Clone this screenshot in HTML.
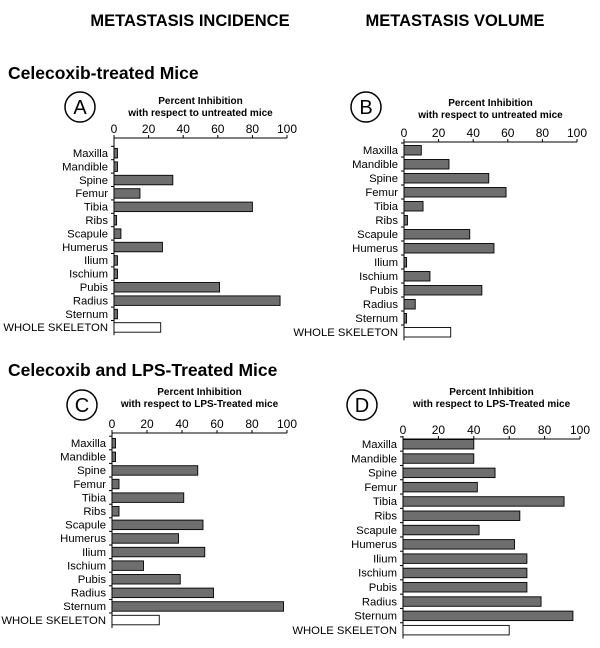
<!DOCTYPE html>
<html><head><meta charset="utf-8"><style>
body{margin:0;background:#fff;}
svg{display:block;font-family:"Liberation Sans",Arial,sans-serif;}
</style></head><body>
<svg id="fig" width="600" height="648" viewBox="0 0 600 648">
<text x="190" y="26" text-anchor="middle" font-size="16.5" font-weight="bold">METASTASIS INCIDENCE</text>
<text x="455" y="26" text-anchor="middle" font-size="16.5" font-weight="bold">METASTASIS VOLUME</text>
<text x="8" y="79" font-size="17.5" font-weight="bold">Celecoxib-treated Mice</text>
<text x="8" y="376" font-size="17.5" font-weight="bold">Celecoxib and LPS-Treated Mice</text>
</svg>
<script>
const categories=["Maxilla","Mandible","Spine","Femur","Tibia","Ribs","Scapule","Humerus","Ilium","Ischium","Pubis","Radius","Sternum","WHOLE SKELETON"];
const ticks=[0,20,40,60,80,100];
const valuesA=[2,2,34,15,80,1.5,4,28,2,2,61,96,2,27];
const valuesB=[10,26,49,59,11,2,38,52,1.5,15,45,6.5,1.5,27];
const valuesC=[2,2,49,4,41,4,52,38,53,18,39,58,98,27];
const valuesD=[40,40,52,42,91,66,43,63,70,70,70,78,96,60];
const NS="http://www.w3.org/2000/svg";
const svg=document.getElementById('fig');
function el(t,a,txt){const e=document.createElementNS(NS,t);for(const k in a)e.setAttribute(k,a[k]);if(txt!==undefined)e.textContent=txt;svg.appendChild(e);return e;}
const panels=[
 {id:'a',letter:'A',vals:valuesA,x0:114,x1:287,axisY:138,row0:153,step:13.4,cx:80,cy:107,t1:104,sub:"with respect to untreated mice"},
 {id:'b',letter:'B',vals:valuesB,x0:404,x1:577,axisY:142,row0:150,step:14,cx:366,cy:107,t1:106,sub:"with respect to untreated mice"},
 {id:'c',letter:'C',vals:valuesC,x0:112,x1:287,axisY:433,row0:443,step:13.6,cx:82,cy:405,t1:395,sub:"with respect to LPS-Treated mice"},
 {id:'d',letter:'D',vals:valuesD,x0:403,x1:580,axisY:439,row0:444,step:14.3,cx:362,cy:405,t1:395,sub:"with respect to LPS-Treated mice"}
];
panels.forEach(p=>{
 const xs=v=>p.x0+(p.x1-p.x0)*v/100;
 const ys=i=>p.row0+i*p.step;
 let e;
 e=el('circle',{cx:p.cx,cy:p.cy,r:15,fill:'none',stroke:'#000','stroke-width':1.5});
 
 
 e=el('text',{x:p.cx,y:p.cy+7,'text-anchor':'middle','font-size':20},p.letter);
 
 
 const mid=(p.x0+p.x1)/2;
 e=el('text',{x:mid,y:p.t1,'text-anchor':'middle','font-size':10,'font-weight':'bold'},"Percent Inhibition");
 
 
 e=el('text',{x:mid,y:p.t1+12,'text-anchor':'middle','font-size':10,'font-weight':'bold'},p.sub);
 
 
 e=el('line',{x1:p.x0,y1:p.axisY,x2:p.x1,y2:p.axisY,stroke:'#000','stroke-width':1});
 
 
 const yEnd=ys(categories.length-1)+p.step*0.6;
 e=el('line',{x1:p.x0,y1:p.axisY,x2:p.x0,y2:yEnd,stroke:'#000','stroke-width':1});
 
 
 ticks.forEach(t=>{
  const x=xs(t);
  e=el('line',{x1:x,y1:p.axisY-3,x2:x,y2:p.axisY,stroke:'#000'});
  
  
  e=el('text',{x:x,y:p.axisY-5,'text-anchor':'middle','font-size':12},String(t));
  
  
 });
 categories.forEach((c,i)=>{
  const y=ys(i);
  e=el('line',{x1:p.x0-3,y1:y-p.step/2,x2:p.x0,y2:y-p.step/2,stroke:'#000'});
  
  
  e=el('text',{x:p.x0-6,y:y+4,'text-anchor':'end','font-size':11.3},c);
  
  
  const whole=i===categories.length-1;
  e=el('rect',{x:p.x0,y:y-4.5,width:Math.max(0,xs(p.vals[i])-p.x0),height:9.5,fill:whole?'#fff':'#6e6e6e',stroke:'#000','stroke-width':0.9});
  
  
 });
});
</script>
</body></html>
